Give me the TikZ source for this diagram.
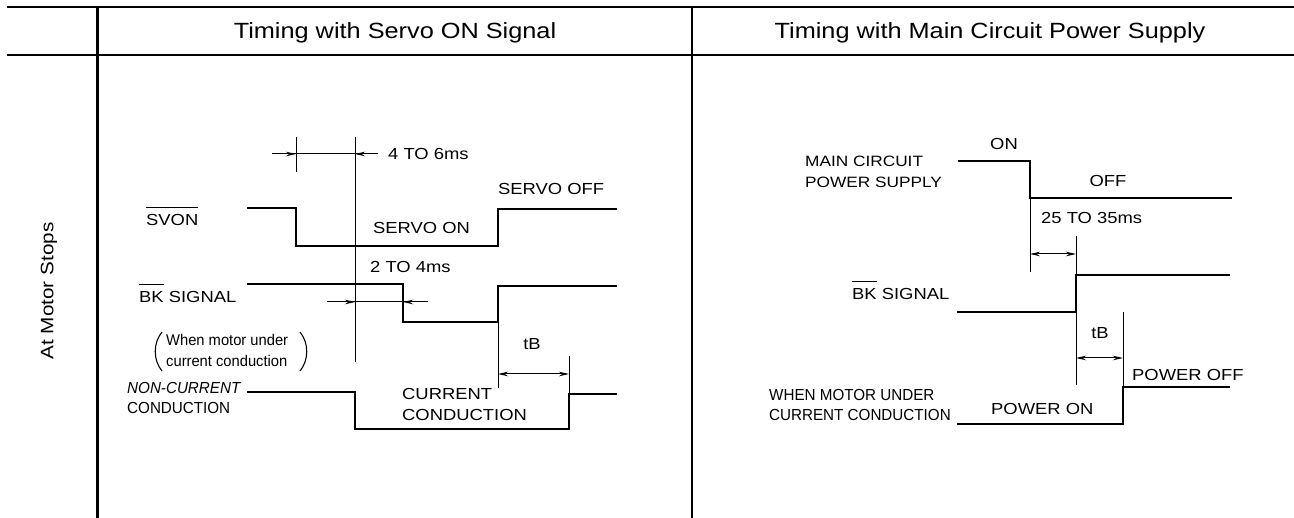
\documentclass[tikz,border=0pt]{standalone}
\usepackage{fontspec}
\setmainfont{Liberation Sans}[FakeStretch=1.15]
\newfontfamily\condfont{Liberation Sans}[FakeStretch=0.95]
\usetikzlibrary{arrows.meta}
\newcommand\myovl[1]{\vbox{\hrule height 1pt\kern 6.5pt\hbox{#1}}}
\begin{document}
\begin{tikzpicture}[x=1pt,y=-1pt,
  lbl/.style={inner sep=0pt, font=\fontsize{16}{19}\selectfont, text height=11.5pt, text depth=0pt},
  clbl/.style={inner sep=0pt, font=\condfont\fontsize{16}{19}\selectfont, text height=11.5pt, text depth=0pt},
  hdr/.style={inner sep=0pt, font=\fontsize{22}{26}\selectfont, text height=15.8pt, text depth=0pt},
  sig/.style={line width=2.9pt},
  gridline/.style={line width=2.9pt},
  thinline/.style={line width=1pt},
  parenline/.style={line width=1.1pt},
  dimarrow/.style={line width=1pt, -{Stealth[length=10pt,width=4.5pt]}},
  dimboth/.style={line width=1pt, {Stealth[length=10pt,width=4.5pt]}-{Stealth[length=10pt,width=4.5pt]}},
]
\useasboundingbox[fill=white] (0,0) rectangle (1294,518);

% table
\draw[gridline] (7,7) -- (1294,7);
\draw[gridline] (7,55) -- (1294,55);
\draw[gridline] (97.5,7) -- (97.5,518);
\draw[line width=2.2pt] (692,7) -- (692,518);

\node[hdr] (h1) at (395,31) {Timing with Servo ON Signal};
\node[hdr] (h2) at (990,31) {Timing with Main Circuit Power Supply};
\node[inner sep=0pt, font=\fontsize{18}{21}\selectfont, text height=12.9pt, text depth=0pt, rotate=90] (rowlbl) at (47,291) {At Motor Stops};

% ---------- left panel ----------
% signals
\draw[sig] (247,208) -- (296,208) -- (296,246) -- (498,246) -- (498,209) -- (617,209);
\draw[sig] (247,284) -- (403,284) -- (403,322) -- (498,322) -- (498,286) -- (617,286);
\draw[sig] (247,392) -- (355,392) -- (355,429) -- (569,429) -- (569,394) -- (617,394);

% thin reference lines
\draw[thinline] (355,137) -- (355,362);
\draw[thinline] (296,137) -- (296,172);
\draw[thinline] (498,322) -- (498,388);
\draw[thinline] (569,394) -- (569,356);

% dimensions
\draw[thinline] (272,154) -- (378,154);
\draw[dimarrow] (272,154) -- (296,154);
\draw[dimarrow] (378,154) -- (355,154);
\draw[thinline] (327,302) -- (428,302);
\draw[dimarrow] (327,302) -- (355,302);
\draw[dimarrow] (428,302) -- (403,302);
\draw[dimboth] (498,374) -- (569,374);

% labels
\node[lbl, anchor=west] (t46) at (388,154) {4 TO 6ms};
\node[lbl, anchor=west] (soff) at (498,189) {SERVO OFF};
\node[lbl, anchor=west] (son) at (373,228) {SERVO ON};
\node[lbl, anchor=west] (t24) at (370,267) {2 TO 4ms};
\node[lbl, anchor=west] (svon) at (146,220) {\myovl{SVON}};
\node[lbl, anchor=west] (bkl) at (139,297) {\myovl{BK} SIGNAL};
\draw[parenline] (162,332) .. controls (153,343) and (153,360) .. (162,371);
\draw[parenline] (300,332) .. controls (309,343) and (309,360) .. (300,371);
\node[inner sep=0pt, anchor=west, font=\condfont\fontsize{15.5}{21}\selectfont, align=left] (wmu) at (166,350)
  {When motor under\\current conduction};
\node[clbl, anchor=west, font=\condfont\itshape\fontsize{16}{19}\selectfont] (ncc1) at (127,388) {NON-CURRENT};
\node[clbl, anchor=west] (ncc2) at (127,408) {CONDUCTION};
\node[lbl, anchor=west] (cc1) at (402,394) {CURRENT};
\node[lbl, anchor=west] (cc2) at (402,415) {CONDUCTION};
\node[lbl] (tbl) at (532,344) {tB};

% ---------- right panel ----------
\draw[sig] (958,161) -- (1030,161) -- (1030,198) -- (1232,198);
\draw[sig] (957,312) -- (1076,312) -- (1076,275) -- (1230,275);
\draw[sig] (957,424) -- (1123,424) -- (1123,387) -- (1230,387);

\draw[thinline] (1030,198) -- (1030,272);
\draw[thinline] (1076,236) -- (1076,275);
\draw[thinline] (1076,312) -- (1076,385);
\draw[thinline] (1123,312) -- (1123,387);

\draw[dimboth] (1030,254) -- (1076,254);
\draw[dimboth] (1076,358) -- (1123,358);

\node[lbl] (on) at (1004,144) {ON};
\node[lbl, anchor=west, font=\fontsize{15}{18}\selectfont] (mc1) at (805,161) {MAIN CIRCUIT};
\node[lbl, anchor=west, font=\fontsize{15}{18}\selectfont] (mc2) at (805,182) {POWER SUPPLY};
\node[lbl] (off) at (1108,181) {OFF};
\node[lbl, anchor=west] (t2535) at (1041,218) {25 TO 35ms};
\node[lbl, anchor=west] (bkr) at (852,294) {\myovl{BK} SIGNAL};
\node[lbl] (tbr) at (1100,333) {tB};
\node[lbl, anchor=west] (poff) at (1132,375) {POWER OFF};
\node[lbl, anchor=west] (pon) at (991,409) {POWER ON};
\node[clbl, anchor=west] (wm1) at (769,395) {WHEN MOTOR UNDER};
\node[clbl, anchor=west] (wm2) at (769,415) {CURRENT CONDUCTION};
\end{tikzpicture}
\end{document}
